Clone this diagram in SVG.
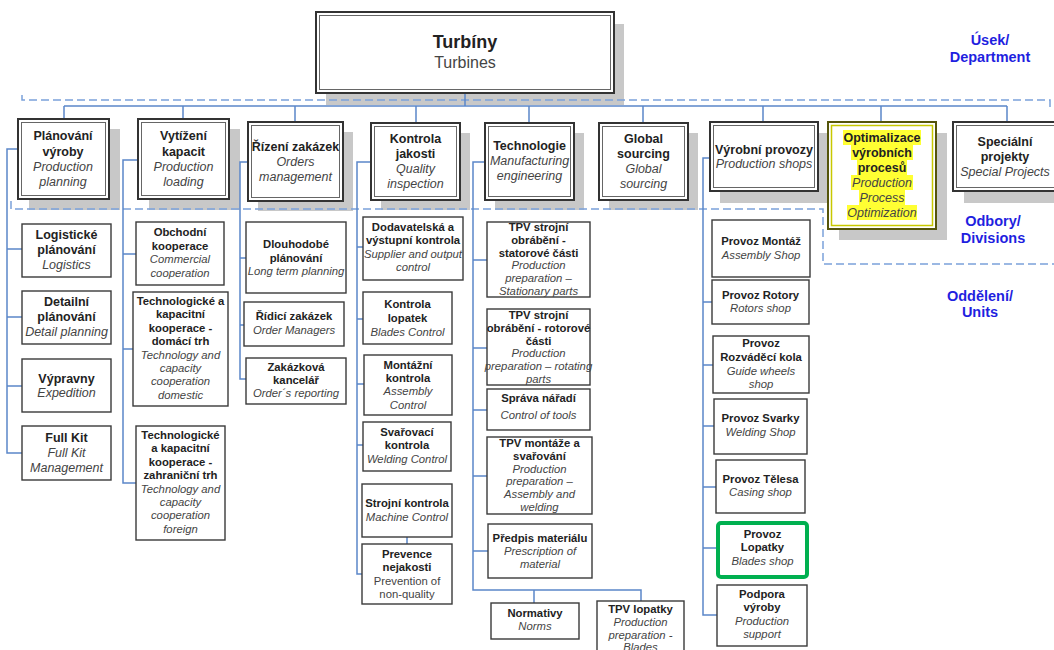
<svg xmlns="http://www.w3.org/2000/svg" width="1054" height="650" viewBox="0 0 1054 650">
<style>
text{font-family:"Liberation Sans",Arial,sans-serif;text-anchor:middle}
.b{font-weight:bold;fill:#222}
.i{font-style:italic;fill:#444}
.r{fill:#444}
.L{font-size:12.5px}
.S{font-size:11.3px}
.sh{fill:#c8c8c8}
.o{fill:#fff;stroke:#333;stroke-width:2}
.in{fill:none;stroke:#666;stroke-width:1}
.c{fill:#fff;stroke:#3a3a3a;stroke-width:1.4}
.conn{fill:none;stroke:#5b87c9;stroke-width:1.5}
.dash{fill:none;stroke:#7ba1da;stroke-width:1.5;stroke-dasharray:8 4}
.lab{font-weight:bold;font-size:14.5px;fill:#1f1fe0}
.hl{fill:#ffff33}
</style>

<g id="shadows">
<rect class="sh" x="326" y="24" width="298" height="81"/>
<rect class="sh" x="29" y="129" width="91" height="81"/>
<rect class="sh" x="149" y="129" width="91" height="81"/>
<rect class="sh" x="258" y="132" width="95" height="79"/>
<rect class="sh" x="381" y="133" width="89" height="77"/>
<rect class="sh" x="495" y="133" width="89" height="77"/>
<rect class="sh" x="609" y="133" width="89" height="77"/>
<rect class="sh" x="720" y="133" width="108" height="70"/>
<rect class="sh" x="839" y="133" width="108" height="107"/>
<rect class="sh" x="964" y="133" width="100" height="70"/>
</g>

<g id="regions">
<path class="dash" d="M22,95 V100 H1050 V108"/>
<path class="dash" d="M11,201 V209 H823 V264 H1054"/>
</g>

<g id="connectors">
<path class="conn" d="M465,93 V106 M64,106 H1007 M64,106 V119 M183,106 V119 M295,106 V122 M416,106 V123 M529,106 V123 M643,106 V123 M763,106 V122 M881,106 V122 M1007,106 V122"/>
<path class="conn" d="M18,149 H7 V453 H22 M7,249 H22 M7,317 H22 M7,386 H22"/>
<path class="conn" d="M138,160 H123 V483 H136 M123,254 H136 M123,349 H133"/>
<path class="conn" d="M248,162 H240 V379 H246 M240,258 H246 M240,325 H244"/>
<path class="conn" d="M371,162 H357 V574 H362 M357,247 H363 M357,319 H363 M357,384 H364 M357,445 H363 M407,537 V544"/>
<path class="conn" d="M485,162 H473 V590 H641 V601 M534,590 V603 M473,260 H487 M473,348 H487 M473,410 H487 M473,476 H487 M473,551 H488"/>
<path class="conn" d="M710,158 H703 V615 H717 M703,302 H712 M703,365 H713 M703,426 H714 M703,487 H716 M703,548 H717"/>
</g>

<g id="turbiny">
<rect class="o" x="316" y="12" width="298" height="81"/>
<rect class="in" x="319.5" y="15.5" width="291" height="74"/>
<text x="465" y="48" style="font-weight:bold;font-size:18px;fill:#222">Turbíny</text>
<text x="465" y="68" style="font-size:16px;fill:#444">Turbines</text>
</g>

<g id="planovani">
<rect class="o" x="18" y="119" width="91" height="80"/>
<rect class="in" x="21.5" y="122.5" width="84" height="73"/>
<text class="b L" x="63" y="139.5">Plánování</text>
<text class="b L" x="63" y="155.5">výroby</text>
<text class="i L" x="63" y="170.5">Production</text>
<text class="i L" x="63" y="185.5">planning</text>
</g>
<g id="vytizeni">
<rect class="o" x="138" y="119" width="91" height="80"/>
<rect class="in" x="141.5" y="122.5" width="84" height="73"/>
<text class="b L" x="183.5" y="139.5">Vytížení</text>
<text class="b L" x="183.5" y="155.5">kapacit</text>
<text class="i L" x="183.5" y="170.5">Production</text>
<text class="i L" x="183.5" y="185.5">loading</text>
</g>
<g id="rizeni">
<rect class="o" x="248" y="122" width="95" height="79"/>
<rect class="in" x="251.5" y="125.5" width="88" height="72"/>
<text class="b L" x="295.5" y="150.5">Řízení zakázek</text>
<text class="i L" x="295.5" y="165.5">Orders</text>
<text class="i L" x="295.5" y="180.5">management</text>
</g>
<g id="kontrola">
<rect class="o" x="371" y="123" width="89" height="77"/>
<rect class="in" x="374.5" y="126.5" width="82" height="70"/>
<text class="b L" x="415.5" y="142.5">Kontrola</text>
<text class="b L" x="415.5" y="157.5">jakosti</text>
<text class="i L" x="415.5" y="172.5">Quality</text>
<text class="i L" x="415.5" y="187.5">inspection</text>
</g>
<g id="technologie">
<rect class="o" x="485" y="123" width="89" height="77"/>
<rect class="in" x="488.5" y="126.5" width="82" height="70"/>
<text class="b L" x="529.5" y="149.5">Technologie</text>
<text class="i L" x="529.5" y="164.5">Manufacturing</text>
<text class="i L" x="529.5" y="179.5">engineering</text>
</g>
<g id="global">
<rect class="o" x="599" y="123" width="89" height="77"/>
<rect class="in" x="602.5" y="126.5" width="82" height="70"/>
<text class="b L" x="643.5" y="142.5">Global</text>
<text class="b L" x="643.5" y="157.5">sourcing</text>
<text class="i L" x="643.5" y="172.5">Global</text>
<text class="i L" x="643.5" y="187.5">sourcing</text>
</g>
<g id="vyrobni">
<rect class="o" x="710" y="122" width="108" height="69"/>
<rect class="in" x="713.5" y="125.5" width="101" height="62"/>
<text class="b L" x="764" y="153.5">Výrobní provozy</text>
<text class="i L" x="764" y="167.5">Production shops</text>
</g>
<g id="optimalizace">
<rect x="828" y="122" width="108" height="107" fill="#fff" stroke="#55550a" stroke-width="2"/>
<rect x="831.5" y="125.5" width="101" height="100" fill="none" stroke="#c8c800" stroke-width="1.5"/>
<rect class="hl" x="843" y="130" width="78" height="15"/>
<rect class="hl" x="851" y="145" width="62" height="15"/>
<rect class="hl" x="857" y="160" width="50" height="15"/>
<rect class="hl" x="851" y="175" width="62" height="15"/>
<rect class="hl" x="859" y="190" width="46" height="15"/>
<rect class="hl" x="847" y="205" width="70" height="15"/>
<text class="b L" x="882" y="141.5">Optimalizace</text>
<text class="b L" x="882" y="156.5">výrobních</text>
<text class="b L" x="882" y="171.5">procesů</text>
<text class="i L" x="882" y="186.5">Production</text>
<text class="i L" x="882" y="201.5">Process</text>
<text class="i L" x="882" y="216.5">Optimization</text>
</g>
<g id="specialni">
<rect class="o" x="953" y="122" width="110" height="69"/>
<rect class="in" x="956.5" y="125.5" width="103" height="62"/>
<text class="b L" x="1005" y="145.5">Speciální</text>
<text class="b L" x="1005" y="160.5">projekty</text>
<text class="i L" x="1005" y="175.5">Special Projects</text>
</g>

<!-- column 1 -->
<g id="logisticke">
<rect class="c" x="22" y="224" width="89" height="53"/>
<text class="b L" x="66.5" y="238.5">Logistické</text>
<text class="b L" x="66.5" y="253.5">plánování</text>
<text class="i L" x="66.5" y="268.5">Logistics</text>
</g>
<g id="detailni">
<rect class="c" x="22" y="291" width="89" height="53"/>
<text class="b L" x="66.5" y="305.5">Detailní</text>
<text class="b L" x="66.5" y="320.5">plánování</text>
<text class="i L" x="66.5" y="336">Detail planning</text>
</g>
<g id="vypravny">
<rect class="c" x="22" y="359" width="89" height="53"/>
<text class="b L" x="66.5" y="382.5">Výpravny</text>
<text class="i L" x="66.5" y="396.5">Expedition</text>
</g>
<g id="fullkit">
<rect class="c" x="22" y="426" width="89" height="54"/>
<text class="b L" x="66.5" y="441.5">Full Kit</text>
<text class="i L" x="66.5" y="456.5">Full Kit</text>
<text class="i L" x="66.5" y="471.5">Management</text>
</g>

<!-- column 2 -->
<g id="obchodni">
<rect class="c" x="136" y="222" width="88" height="63"/>
<text class="b S" x="180" y="236">Obchodní</text>
<text class="b S" x="180" y="250">kooperace</text>
<text class="i S" x="180" y="263">Commercial</text>
<text class="i S" x="180" y="277">cooperation</text>
</g>
<g id="domaci">
<rect class="c" x="133" y="292" width="95" height="114"/>
<text class="b S" x="180.5" y="305">Technologické a</text>
<text class="b S" x="180.5" y="318.4">kapacitní</text>
<text class="b S" x="180.5" y="331.8">kooperace -</text>
<text class="b S" x="180.5" y="345.2">domácí trh</text>
<text class="i S" x="180.5" y="358.6">Technology and</text>
<text class="i S" x="180.5" y="372">capacity</text>
<text class="i S" x="180.5" y="385.4">cooperation</text>
<text class="i S" x="180.5" y="398.8">domestic</text>
</g>
<g id="zahranicni">
<rect class="c" x="136" y="426" width="89" height="114"/>
<text class="b S" x="180.5" y="439">Technologické</text>
<text class="b S" x="180.5" y="452.4">a kapacitní</text>
<text class="b S" x="180.5" y="465.8">kooperace -</text>
<text class="b S" x="180.5" y="479.2">zahraniční trh</text>
<text class="i S" x="180.5" y="492.6">Technology and</text>
<text class="i S" x="180.5" y="506">capacity</text>
<text class="i S" x="180.5" y="519.4">cooperation</text>
<text class="i S" x="180.5" y="532.8">foreign</text>
</g>

<!-- column 3 -->
<g id="dlouhodobe">
<rect class="c" x="246" y="222" width="100" height="71"/>
<text class="b S" x="296" y="248">Dlouhodobé</text>
<text class="b S" x="296" y="262">plánování</text>
<text class="i S" x="296" y="275">Long term planning</text>
</g>
<g id="ridici">
<rect class="c" x="244" y="302" width="100" height="44"/>
<text class="b S" x="294" y="320">Řídicí zakázek</text>
<text class="i S" x="294" y="334">Order Managers</text>
</g>
<g id="zakazkova">
<rect class="c" x="246" y="358" width="100" height="46"/>
<text class="b S" x="296" y="370.5">Zakázková</text>
<text class="b S" x="296" y="383.5">kancelář</text>
<text class="i S" x="296" y="396.5">Order´s reporting</text>
</g>

<!-- column 4 -->
<g id="dodavatelska">
<rect class="c" x="363" y="217" width="100" height="63"/>
<text class="b S" x="413" y="231">Dodavatelská a</text>
<text class="b S" x="413" y="244.3">výstupní kontrola</text>
<text class="i S" x="413" y="257.6">Supplier and output</text>
<text class="i S" x="413" y="271">control</text>
</g>
<g id="lopatek">
<rect class="c" x="363" y="292" width="89" height="52"/>
<text class="b S" x="407.5" y="308">Kontrola</text>
<text class="b S" x="407.5" y="322">lopatek</text>
<text class="i S" x="407.5" y="336">Blades Control</text>
</g>
<g id="montazni">
<rect class="c" x="364" y="355" width="88" height="60"/>
<text class="b S" x="408" y="369">Montážní</text>
<text class="b S" x="408" y="382">kontrola</text>
<text class="i S" x="408" y="395">Assembly</text>
<text class="i S" x="408" y="409">Control</text>
</g>
<g id="svarovaci">
<rect class="c" x="363" y="422" width="88" height="49"/>
<text class="b S" x="407" y="436">Svařovací</text>
<text class="b S" x="407" y="449">kontrola</text>
<text class="i S" x="407" y="463">Welding Control</text>
</g>
<g id="strojni">
<rect class="c" x="362" y="484" width="90" height="53"/>
<text class="b S" x="407" y="507">Strojní kontrola</text>
<text class="i S" x="407" y="521">Machine Control</text>
</g>
<g id="prevence">
<rect class="c" x="362" y="544" width="90" height="60"/>
<text class="b S" x="407" y="558">Prevence</text>
<text class="b S" x="407" y="571">nejakosti</text>
<text class="r S" x="407" y="585">Prevention of</text>
<text class="r S" x="407" y="598">non-quality</text>
</g>

<!-- column 5 -->
<g id="statorove">
<rect class="c" x="487" y="222" width="103" height="75"/>
<text class="b S" x="538.5" y="231">TPV strojní</text>
<text class="b S" x="538.5" y="243.8">obrábění -</text>
<text class="b S" x="538.5" y="256.6">statorové části</text>
<text class="i S" x="538.5" y="269.4">Production</text>
<text class="i S" x="538.5" y="282.2">preparation –</text>
<text class="i S" x="538.5" y="295">Stationary parts</text>
</g>
<g id="rotorove">
<rect class="c" x="487" y="309" width="103" height="76"/>
<text class="b S" x="538.5" y="319">TPV strojní</text>
<text class="b S" x="538.5" y="331.8">obrábění - rotorové</text>
<text class="b S" x="538.5" y="344.6">části</text>
<text class="i S" x="538.5" y="357.4">Production</text>
<text class="i S" x="538.5" y="370.2">preparation – rotating</text>
<text class="i S" x="538.5" y="383">parts</text>
</g>
<g id="sprava">
<rect class="c" x="487" y="389" width="103" height="41"/>
<text class="b S" x="538.5" y="402">Správa nářadí</text>
<text class="i S" x="538.5" y="419">Control of tools</text>
</g>
<g id="tpvmontaze">
<rect class="c" x="487" y="437" width="105" height="77"/>
<text class="b S" x="539.5" y="447">TPV montáže a</text>
<text class="b S" x="539.5" y="459.8">svařování</text>
<text class="i S" x="539.5" y="472.6">Production</text>
<text class="i S" x="539.5" y="485.4">preparation –</text>
<text class="i S" x="539.5" y="498.2">Assembly and</text>
<text class="i S" x="539.5" y="511">welding</text>
</g>
<g id="predpis">
<rect class="c" x="488" y="524" width="104" height="54"/>
<text class="b S" x="540" y="542">Předpis materiálu</text>
<text class="i S" x="540" y="555">Prescription of</text>
<text class="i S" x="540" y="568">material</text>
</g>
<g id="normativy">
<rect class="c" x="491" y="603" width="88" height="36"/>
<text class="b S" x="535" y="617">Normativy</text>
<text class="i S" x="535" y="630">Norms</text>
</g>
<g id="tpvlopatky">
<rect class="c" x="597" y="601" width="87" height="60"/>
<text class="b S" x="640.5" y="613">TPV lopatky</text>
<text class="i S" x="640.5" y="626">Production</text>
<text class="i S" x="640.5" y="638.5">preparation -</text>
<text class="i S" x="640.5" y="651">Blades</text>
</g>

<!-- column 7 -->
<g id="montaz">
<rect class="c" x="712" y="220" width="98" height="57"/>
<text class="b S" x="761" y="245">Provoz Montáž</text>
<text class="i S" x="761" y="259">Assembly Shop</text>
</g>
<g id="rotory">
<rect class="c" x="712" y="280" width="97" height="44"/>
<text class="b S" x="760.5" y="299">Provoz Rotory</text>
<text class="i S" x="760.5" y="312">Rotors shop</text>
</g>
<g id="rozvadeci">
<rect class="c" x="713" y="336" width="96" height="57"/>
<text class="b S" x="761" y="347">Provoz</text>
<text class="b S" x="761" y="361">Rozváděcí kola</text>
<text class="i S" x="761" y="375">Guide wheels</text>
<text class="i S" x="761" y="388">shop</text>
</g>
<g id="svarky">
<rect class="c" x="714" y="399" width="93" height="55"/>
<text class="b S" x="760.5" y="422">Provoz Svarky</text>
<text class="i S" x="760.5" y="436">Welding Shop</text>
</g>
<g id="telesa">
<rect class="c" x="716" y="460" width="89" height="53"/>
<text class="b S" x="760.5" y="483">Provoz Tělesa</text>
<text class="i S" x="760.5" y="496">Casing shop</text>
</g>
<g id="lopatky">
<rect x="718" y="523" width="89" height="54" rx="3" fill="#fff" stroke="#00b050" stroke-width="4"/>
<text class="b S" x="762.5" y="538">Provoz</text>
<text class="b S" x="762.5" y="551">Lopatky</text>
<text class="i S" x="762.5" y="565">Blades shop</text>
</g>
<g id="podpora">
<rect class="c" x="717" y="585" width="90" height="61"/>
<text class="b S" x="762" y="598">Podpora</text>
<text class="b S" x="762" y="611">výroby</text>
<text class="i S" x="762" y="625">Production</text>
<text class="i S" x="762" y="638">support</text>
</g>

<g id="labels">
<text class="lab" x="990" y="45">Úsek/</text>
<text class="lab" x="990" y="62">Department</text>
<text class="lab" x="993" y="226">Odbory/</text>
<text class="lab" x="993" y="243">Divisions</text>
<text class="lab" x="980" y="301">Oddělení/</text>
<text class="lab" x="980" y="317">Units</text>
</g>
</svg>
